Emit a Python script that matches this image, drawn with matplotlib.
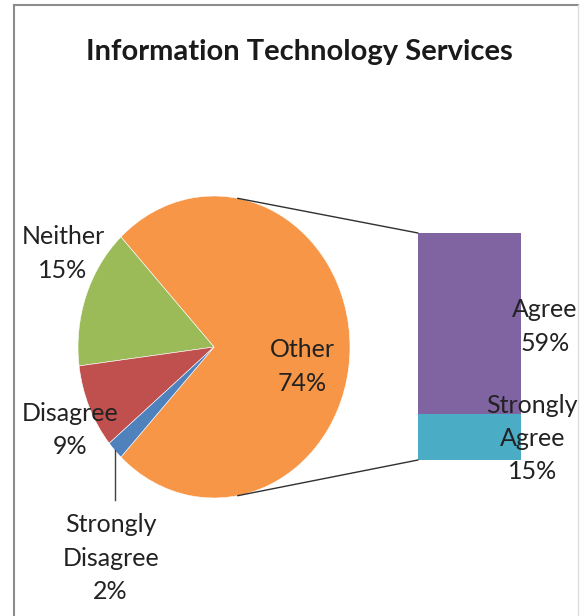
import matplotlib.pyplot as plt
from matplotlib.patches import ConnectionPatch
from matplotlib.lines import Line2D
import numpy as np

# data
pie_labels = ['Other', 'Neither', 'Disagree', 'Strongly\nDisagree']
pie_values = [74, 15, 9, 2]
pie_colors = ['#F79646', '#9BBB59', '#C0504D', '#4F81BD']

bar_labels = ['Strongly\nAgree', 'Agree']
bar_values = [15, 59]
bar_colors = ['#4BACC6', '#8064A2']

title = 'Information Technology Services'

W, H = 584, 616
fig = plt.figure(figsize=(W / 100, H / 100), dpi=100)
plt.rcParams['font.family'] = ['Lato', 'DejaVu Sans']


def px_axes(x0, y0, x1, y1):
    # rectangle given in pixels from top-left
    return fig.add_axes([x0 / W, 1 - y1 / H, (x1 - x0) / W, (y1 - y0) / H])


# chart frame
frame = px_axes(0, 0, W, H)
frame.set_xlim(0, W)
frame.set_ylim(H, 0)
frame.axis('off')
frame.add_line(Line2D([14, 14], [5, 616], color='#8c8c8c', lw=1.5))
frame.add_line(Line2D([14, 578], [5, 5], color='#8c8c8c', lw=1.5))
frame.add_line(Line2D([578, 578], [5, 616], color='#dddddd', lw=1))

fig.text(299 / W, 1 - 52 / H, title, ha='center', va='center',
         fontsize=21, fontweight='bold', color='#1a1a1a')

# pie (ellipse: rx=136px, ry=151px, centre at 214,347)
cx, cy, rx, ry = 214, 347, 136, 151
ax_pie = px_axes(cx - 1.5 * rx, cy - 1.5 * ry, cx + 1.5 * rx, cy + 1.5 * ry)
other_angle = pie_values[0] / sum(pie_values) * 360
wedges, _ = ax_pie.pie(pie_values, colors=pie_colors, startangle=-other_angle / 2,
                       counterclock=True,
                       wedgeprops=dict(edgecolor='white', linewidth=0.4))
ax_pie.set_aspect('auto')
ax_pie.set_xlim(-1.5, 1.5)
ax_pie.set_ylim(-1.5, 1.5)
ax_pie.axis('off')

fs = 18
tc = '#222222'
ls = 1.55
ax_pie.text(0.65, -0.13, f'{pie_labels[0]}\n{pie_values[0]}%', ha='center', va='center',
            fontsize=fs, color=tc, linespacing=ls)
ax_pie.text(-1.11, 0.62, f'{pie_labels[1]}\n{pie_values[1]}%', ha='center', va='center',
            fontsize=fs, color=tc, linespacing=ls)
ax_pie.text(-1.06, -0.55, f'{pie_labels[2]}\n{pie_values[2]}%', ha='center', va='center',
            fontsize=fs, color=tc, linespacing=ls)
ax_pie.text(-0.76, -1.40, f'{pie_labels[3]}\n{pie_values[3]}%', ha='center', va='center',
            fontsize=fs, color=tc, linespacing=ls)

# leader line for the small slice
w = wedges[3]
mid = np.deg2rad((w.theta1 + w.theta2) / 2)
lx, ly = np.cos(mid), np.sin(mid)
ax_pie.plot([lx, lx], [ly, -1.01], color='#404040', lw=1)

# stacked bar
ax_bar = px_axes(418, 233, 521, 460)
bottom = 0
for lab, val, col in zip(bar_labels, bar_values, bar_colors):
    ax_bar.bar(0, val, width=1, bottom=bottom, color=col, edgecolor='none')
    bottom += val
ax_bar.set_xlim(-0.5, 0.5)
ax_bar.set_ylim(0, sum(bar_values))
ax_bar.axis('off')

ax_bar.text(0.73, 43.5, f'{bar_labels[1]}\n{bar_values[1]}%', ha='center', va='center',
            fontsize=fs, color=tc, linespacing=ls, clip_on=False)
ax_bar.text(0.61, 7.0, f'{bar_labels[0]}\n{bar_values[0]}%', ha='center', va='center',
            fontsize=fs, color=tc, linespacing=ls, clip_on=False)

# connector lines
a = np.deg2rad(80)
for sgn, yb in [(1, sum(bar_values)), (-1, 0)]:
    con = ConnectionPatch(xyA=(np.cos(a), sgn * np.sin(a)), coordsA=ax_pie.transData,
                          xyB=(-0.5, yb), coordsB=ax_bar.transData,
                          color='#303030', lw=1)
    fig.add_artist(con)

plt.savefig('out.png', dpi=100)
